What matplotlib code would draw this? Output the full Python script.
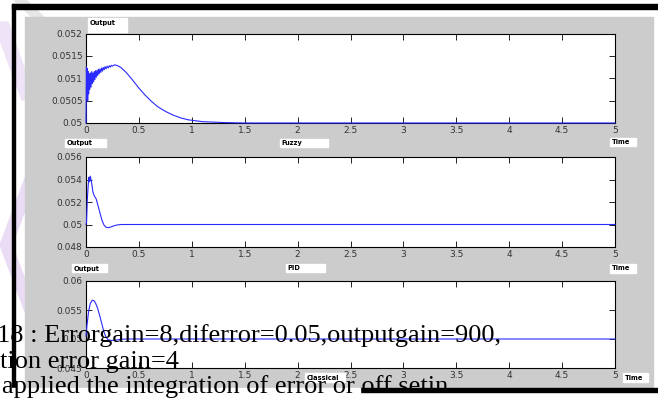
import matplotlib

matplotlib.use("Agg")
import matplotlib.pyplot as plt
from matplotlib.patches import Rectangle, Polygon

W, H = 658, 398

# ---- data ----
fuzzy_t = [0.000, 0.004, 0.008, 0.012, 0.016, 0.020, 0.025, 0.030, 0.036, 0.042,
           0.048, 0.054, 0.060, 0.066, 0.072, 0.078, 0.084, 0.090, 0.097, 0.104,
           0.111, 0.118, 0.125, 0.132, 0.140, 0.148, 0.156, 0.164, 0.172, 0.180,
           0.190, 0.200, 0.210, 0.220, 0.230, 0.240, 0.250, 0.270, 0.300, 0.330,
           0.380, 0.440, 0.500, 0.560, 0.620, 0.680, 0.750, 0.820, 0.900, 0.970,
           1.100, 1.300, 1.500, 5.000]
fuzzy_y = [0.05000, 0.05125, 0.05055, 0.05122, 0.05050, 0.05115, 0.05065, 0.05110,
           0.05075, 0.05112, 0.05080, 0.05115, 0.05088, 0.05112, 0.05092, 0.05115,
           0.05097, 0.05117, 0.05102, 0.05118, 0.05106, 0.05120, 0.05110, 0.05121,
           0.05113, 0.05123, 0.05116, 0.05124, 0.05119, 0.05126, 0.05121, 0.05127,
           0.05123, 0.05128, 0.05125, 0.05129, 0.05127, 0.05130, 0.05128, 0.05124,
           0.05113, 0.05096, 0.05078, 0.05062, 0.05048, 0.05036, 0.05026, 0.05018,
           0.05011, 0.05007, 0.05003, 0.05001, 0.05000, 0.05000]

pid_t = [0.000, 0.005, 0.012, 0.020, 0.028, 0.034, 0.040, 0.047, 0.055, 0.065,
         0.080, 0.095, 0.110, 0.130, 0.150, 0.170, 0.190, 0.215, 0.240, 0.270,
         0.300, 0.340, 5.000]
pid_y = [0.0500, 0.0502, 0.0521, 0.0534, 0.0542, 0.0538, 0.0543, 0.0540, 0.0536,
         0.0529, 0.0525, 0.0523, 0.0518, 0.0511, 0.0504, 0.04995, 0.04975, 0.04972,
         0.04980, 0.04990, 0.04997, 0.05000, 0.05000]

classical_t = [0.000, 0.010, 0.025, 0.040, 0.060, 0.075, 0.090, 0.110, 0.130,
               0.150, 0.170, 0.190, 0.210, 0.240, 0.280, 0.330, 0.400, 5.000]
classical_y = [0.0505, 0.0525, 0.0548, 0.0561, 0.0567, 0.0566, 0.0562, 0.0553,
               0.0540, 0.0526, 0.0512, 0.0503, 0.04985, 0.04975, 0.0498, 0.04995,
               0.0500, 0.0500]

x_ticks = [0, 0.5, 1, 1.5, 2, 2.5, 3, 3.5, 4, 4.5, 5]
x_labels = ["0", "0.5", "1", "1.5", "2", "2.5", "3", "3.5", "4", "4.5", "5"]
y_ticks_1 = [0.05, 0.0505, 0.051, 0.0515, 0.052]
y_labels_1 = ["0.05", "0.0505", "0.051", "0.0515", "0.052"]
y_ticks_2 = [0.048, 0.05, 0.052, 0.054, 0.056]
y_labels_2 = ["0.048", "0.05", "0.052", "0.054", "0.056"]
y_ticks_3 = [0.045, 0.05, 0.055, 0.06]
y_labels_3 = ["0.045", "0.05", "0.055", "0.06"]

# label boxes: text, box in pixels (x0, y0, x1, y1)
box_texts = ["Output", "Output", "Fuzzy", "Time", "Output", "PID", "Time",
             "Classical", "Time"]
box_rects = [(88, 18, 127, 32), (65, 139, 106, 147), (280, 139, 328, 147),
             (610, 138, 636, 146), (72, 264, 107, 272), (286, 264, 325, 272),
             (610, 264, 636, 273), (305, 373, 345, 382), (623, 373, 648, 382)]

doc_lines = ["18 : Errorgain=8,diferror=0.05,outputgain=900,",
             "tion error gain=4",
             "applied the integration of error or off setin"]


def fx(x):
    return x / W


def fy(y):
    return 1 - y / H


def prect(x0, y0, x1, y1, **kw):
    return Rectangle((fx(x0), fy(y1)), fx(x1) - fx(x0), fy(y0) - fy(y1),
                     transform=fig.transFigure, **kw)


fig = plt.figure(figsize=(W / 100, H / 100), dpi=100, facecolor="white")

# watermark bits on the left
wm = [[(0, 22), (8, 22), (30, 85), (30, 100), (22, 100), (0, 40)],
      [(30, 165), (42, 165), (12, 245), (42, 325), (30, 325), (0, 245)],
      [(14, 0), (26, 0), (44, 17), (32, 17)]]
wm_col = ["#eee3f7", "#eadcf5", "#e6e6e6"]
for pts, c in zip(wm, wm_col):
    fig.patches.append(Polygon([(fx(a), fy(b)) for a, b in pts], closed=True,
                               transform=fig.transFigure, color=c, zorder=-3))

# gray figure panel and frame
fig.patches.append(prect(25, 17, 653, 387, color="#cccccc", zorder=-2))
fig.patches.append(prect(12, 4, 658, 9, color="black", zorder=-1))
fig.patches.append(prect(12, 4, 15, 398, color="black", zorder=-1))
fig.patches.append(prect(360, 388, 658, 392, color="black", zorder=-1))

axes_px = [(33.5, 123), (157, 247), (281, 368)]
series = [(fuzzy_t, fuzzy_y), (pid_t, pid_y), (classical_t, classical_y)]
ylims = [(0.05, 0.052), (0.048, 0.056), (0.045, 0.06)]
yticks = [(y_ticks_1, y_labels_1), (y_ticks_2, y_labels_2), (y_ticks_3, y_labels_3)]

for (top, bot), (t, y), yl, (yt, ytl) in zip(axes_px, series, ylims, yticks):
    ax = fig.add_axes([fx(86), fy(bot), fx(615) - fx(86), fy(top) - fy(bot)])
    ax.plot(t, y, color="#2a2aff", lw=0.8, clip_on=False, zorder=5)
    ax.set_xlim(0, 5)
    ax.set_ylim(*yl)
    ax.set_xticks(x_ticks)
    ax.set_xticklabels(x_labels)
    ax.set_yticks(yt)
    ax.set_yticklabels(ytl)
    ax.tick_params(direction="in", top=True, right=True, length=4, width=0.6,
                   labelsize=6.5, labelcolor="#333333", pad=2.5)
    for s in ax.spines.values():
        s.set_linewidth(0.8)

for txt, (x0, y0, x1, y1) in zip(box_texts, box_rects):
    fig.patches.append(prect(x0, y0, x1, y1, color="white", zorder=3))
    fig.text(fx(x0 + 1.5), fy(y0 + 1.5), txt, fontsize=4.8, fontweight="bold",
             ha="left", va="top", zorder=4)

# document text that overlaps the figure
fig.patches.append(prect(0, 388, 360, 398, color="white", zorder=4))
for txt, (x0, yb) in zip(doc_lines, [(-3, 342), (0, 368), (2, 393)]):
    fig.text(fx(x0), fy(yb), txt, fontsize=19, family="Liberation Serif",
             ha="left", va="baseline", color="black", zorder=5)

fig.savefig("out.png", dpi=100)
